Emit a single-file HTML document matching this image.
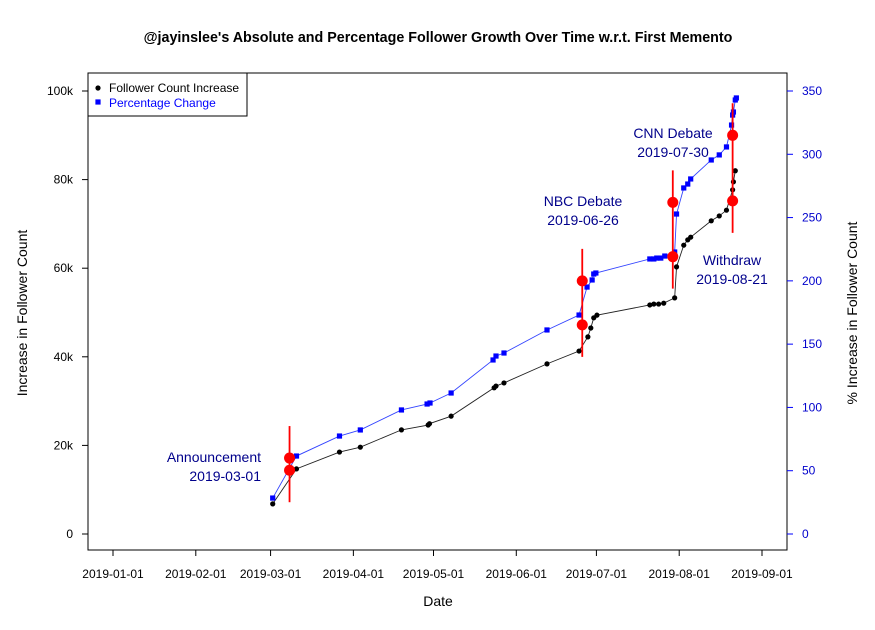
<!DOCTYPE html>
<html><head><meta charset="utf-8"><style>
body{margin:0;background:#fff}
svg text{font-family:"Liberation Sans",sans-serif}
</style></head><body>
<svg id="c" width="875" height="625" xmlns="http://www.w3.org/2000/svg"></svg>
<script>
const countDays=[59.8,68.7,84.8,92.6,108,118,118.5,126.6,142.7,143.4,146.4,162.5,174.5,177.8,178.9,180,181.2,201,202.5,204.3,206.2,210.3,211,213.7,215.2,216.3,224,227,229.7,232,232.3,233];
const countVals=[6800,14700,18500,19600,23500,24600,24900,26600,33000,33400,34100,38400,41300,44500,46500,48800,49400,51700,51900,51900,52100,53300,60300,65200,66400,67000,70700,71800,73100,77700,79500,82000];
const pctDays=[59.8,68.7,84.8,92.6,108,117.6,118.7,126.6,142.3,143.4,146.4,162.5,174.5,177.5,179.4,180,180.8,201,202.5,203.6,205.1,206.6,210.3,211,213.7,215.2,216.3,224,227,229.7,231.6,232,232.3,233,233.4];
const pctVals=[28.4,61.6,77.4,82.2,98,102.7,103.5,111.4,137.5,140.6,143,161.2,173,195.1,200.7,205.4,206.2,217.3,217.3,218,218,219.6,222.8,252.8,273.4,276.5,280.5,295.5,299.5,305.8,323.1,331,333.4,342.9,344.5];
const eventDays=[66.1,175.7,209.6,232];
const eventCounts=[14400,47200,62600,75200];
const eventPcts=[60,200,262,315];
const eventNames=["Announcement","NBC Debate","CNN Debate","Withdraw"];
const eventDates=["2019-03-01","2019-06-26","2019-07-30","2019-08-21"];
const monthDays=[0,31,59,90,120,151,181,212,243];
const monthLabels=["2019-01-01","2019-02-01","2019-03-01","2019-04-01","2019-05-01","2019-06-01","2019-07-01","2019-08-01","2019-09-01"];
const leftTicks=[0,20000,40000,60000,80000,100000];
const leftLabels=["0","20k","40k","60k","80k","100k"];
const rightTicks=[0,50,100,150,200,250,300,350];

const X=d=>113+d*(649/243);
const YL=v=>534-v*0.00443;
const YR=p=>534-p*(443/350);
const svg=document.getElementById('c');
const NS='http://www.w3.org/2000/svg';
function mk(t,a,txt){const e=document.createElementNS(NS,t);for(const k in a)e.setAttribute(k,a[k]);if(txt!==undefined)e.textContent=txt;svg.appendChild(e);return e;}

let e;
e=mk('text',{x:438,y:42,'text-anchor':'middle','font-size':14.3,'font-weight':'bold'},"@jayinslee's Absolute and Percentage Follower Growth Over Time w.r.t. First Memento");

e=mk('rect',{x:88,y:73,width:699,height:477,fill:'none',stroke:'#000'});


monthDays.forEach((d,i)=>{
 e=mk('line',{x1:X(d),x2:X(d),y1:550,y2:556,stroke:'#000'});
 
 e=mk('text',{x:X(d),y:578,'text-anchor':'middle','font-size':12},monthLabels[i]);
 
});
leftTicks.forEach((v,i)=>{
 e=mk('line',{x1:82,x2:88,y1:YL(v),y2:YL(v),stroke:'#000'});
 
 e=mk('text',{x:73,y:YL(v)+4,'text-anchor':'end','font-size':12},leftLabels[i]);
 
});
rightTicks.forEach(v=>{
 e=mk('line',{x1:787,x2:793,y1:YR(v),y2:YR(v),stroke:'#0000ff'});
 
 e=mk('text',{x:802,y:YR(v)+4,'font-size':12,fill:'#0000cc'},String(v));
 
});
e=mk('text',{x:438,y:606,'text-anchor':'middle','font-size':14},'Date');

e=mk('text',{x:27,y:313,'text-anchor':'middle','font-size':14,transform:'rotate(-90 27 313)'},'Increase in Follower Count');

e=mk('text',{x:857,y:313,'text-anchor':'middle','font-size':14,transform:'rotate(-90 857 313)'},'% Increase in Follower Count');


e=mk('polyline',{points:countDays.map((d,i)=>X(d)+','+YL(countVals[i])).join(' '),fill:'none',stroke:'#222','stroke-width':0.9});

countDays.forEach((d,i)=>{
 e=mk('circle',{cx:X(d),cy:YL(countVals[i]),r:2.6,fill:'#000'});
 
});
e=mk('polyline',{points:pctDays.map((d,i)=>X(d)+','+YR(pctVals[i])).join(' '),fill:'none',stroke:'#3344ff','stroke-width':0.9});

pctDays.forEach((d,i)=>{
 e=mk('rect',{x:X(d)-2.6,y:YR(pctVals[i])-2.6,width:5.2,height:5.2,fill:'#0000ff'});
 
});
const labelPos=[[261,462,'end'],[583,206,'middle'],[673,138,'middle'],[732,265,'middle']];
eventDays.forEach((d,i)=>{
 const y1=YR(eventPcts[i]),y2=YL(eventCounts[i]);
 e=mk('line',{x1:X(d),x2:X(d),y1:Math.min(y1,y2)-32,y2:Math.max(y1,y2)+32,stroke:'#ff0000','stroke-width':1.8});
 
 e=mk('circle',{cx:X(d),cy:y2,r:5.5,fill:'#ff0000'});
 
 e=mk('circle',{cx:X(d),cy:y1,r:5.5,fill:'#ff0000'});
 
 const [lx,ly,an]=labelPos[i];
 e=mk('text',{x:lx,y:ly,'text-anchor':an,'font-size':14,fill:'#00008b'},eventNames[i]);
 
 e=mk('text',{x:lx,y:ly+19,'text-anchor':an,'font-size':14,fill:'#00008b'},eventDates[i]);
 
});
e=mk('rect',{x:88,y:73,width:159,height:43,fill:'#fff',stroke:'#000'});

e=mk('circle',{cx:98,cy:88,r:2.6,fill:'#000'});

e=mk('text',{x:109,y:92,'font-size':12},'Follower Count Increase');

e=mk('rect',{x:95.4,y:99.4,width:5.2,height:5.2,fill:'#0000ff'});

e=mk('text',{x:109,y:107,'font-size':12,fill:'#0000ff'},'Percentage Change');

</script>
</body></html>
